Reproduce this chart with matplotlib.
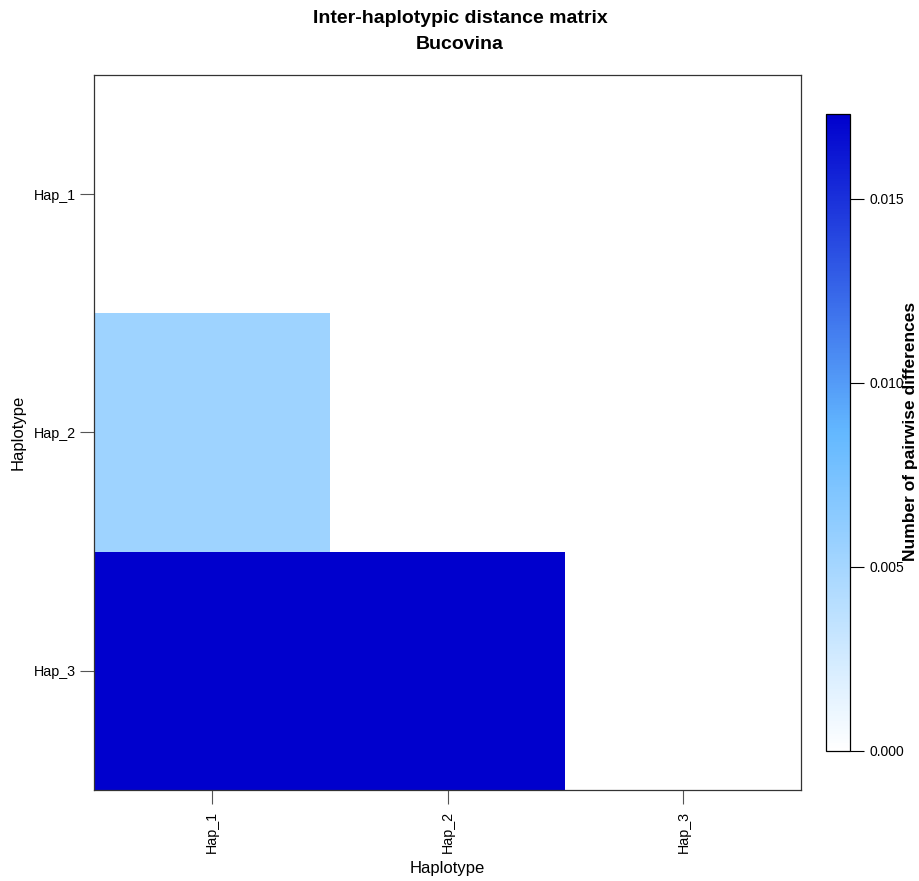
import numpy as np
import matplotlib
matplotlib.use("Agg")
import matplotlib.pyplot as plt
from matplotlib.colors import LinearSegmentedColormap

plt.rcParams['font.family'] = ['Liberation Sans', 'DejaVu Sans']

haplotypes = ["Hap_1", "Hap_2", "Hap_3"]
# lower triangle of the distance matrix (rows = y, cols = x), NaN = not drawn
dist = np.array([
    [np.nan, np.nan, np.nan],
    [0.0054, np.nan, np.nan],
    [0.0173, 0.0173, np.nan],
])
vmax = 0.0173
cbar_ticks = [0.000, 0.005, 0.010, 0.015]

cmap = LinearSegmentedColormap.from_list("hap", ["#FFFFFF", "#63B8FF", "#0000CD"])

fig = plt.figure(figsize=(9.2, 8.81), dpi=100)
ax = fig.add_axes([0.102, 0.1033, 0.769, 0.8116])
cax = fig.add_axes([0.898, 0.1476, 0.026, 0.723])

masked = np.ma.masked_invalid(dist)
mesh = ax.pcolormesh(np.arange(4) - 0.5, np.arange(4) - 0.5, masked,
                     cmap=cmap, vmin=0, vmax=vmax)
ax.set_xlim(-0.5, 2.5)
ax.set_ylim(2.5, -0.5)
ax.set_xticks(range(3))
ax.set_xticklabels(haplotypes, rotation=90, fontsize=10.3)
ax.set_yticks(range(3))
ax.set_yticklabels(haplotypes, fontsize=10.3)
ax.tick_params(length=10, width=0.8, color="#555555", pad=5)
ax.tick_params(axis="y", pad=3)
for s in ax.spines.values():
    s.set_color("#333333")
    s.set_linewidth(0.9)
ax.set_xlabel("Haplotype", fontsize=12, labelpad=6)
ax.set_ylabel("Haplotype", fontsize=12, labelpad=6)

fig.text(0.5, 0.979, "Inter-haplotypic distance matrix",
         ha="center", va="center", fontsize=14, fontweight="bold")
fig.text(0.5, 0.949, "Bucovina",
         ha="center", va="center", fontsize=14, fontweight="bold")

cb = fig.colorbar(mesh, cax=cax, ticks=cbar_ticks)
cb.ax.set_yticklabels(["%.3f" % t for t in cbar_ticks], fontsize=10)
cb.ax.tick_params(length=10, width=0.8, pad=4)
cb.outline.set_linewidth(0.9)
fig.text(0.99, 0.51, "Number of pairwise differences", rotation=90,
         ha="center", va="center", fontsize=12.5, fontweight="bold")

fig.savefig("out.png", dpi=100)
